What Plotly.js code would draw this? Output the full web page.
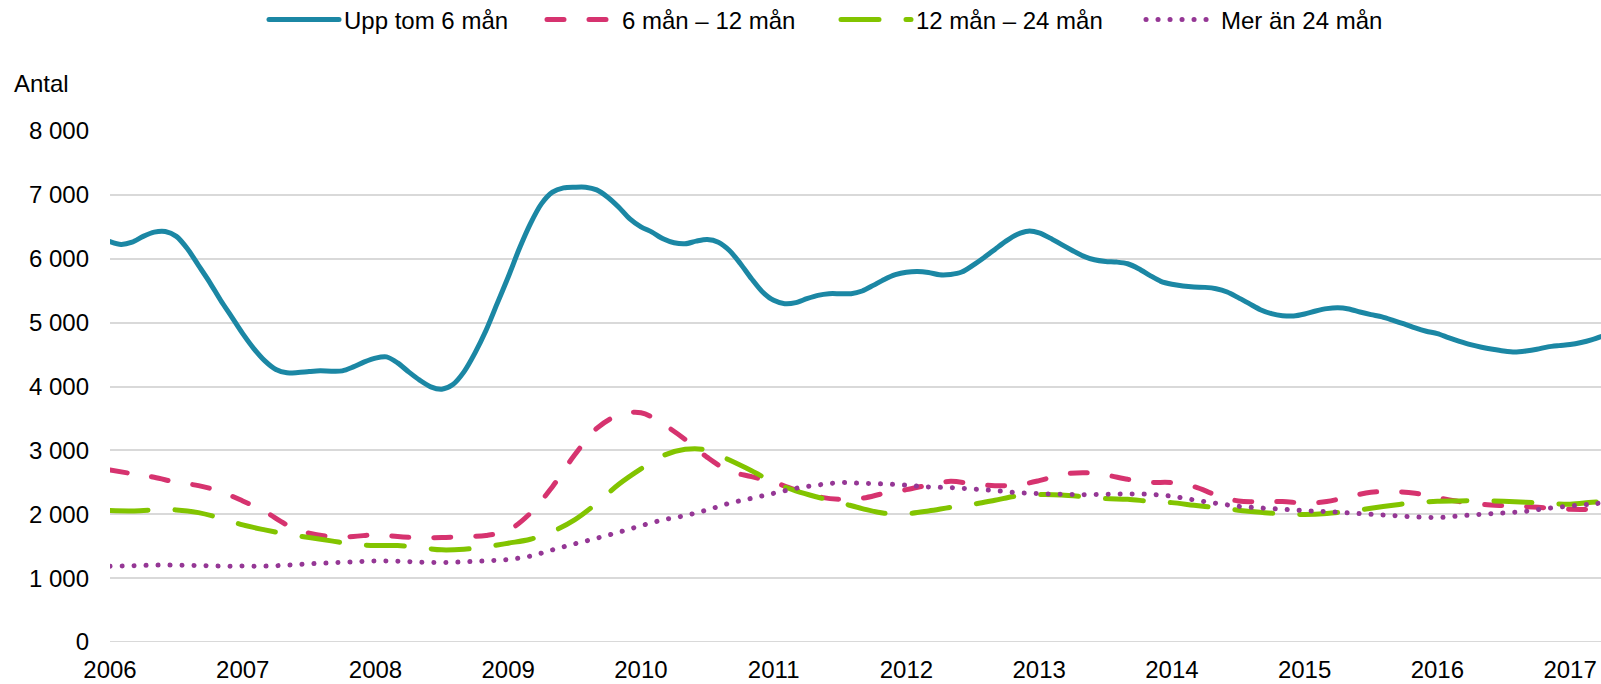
<!DOCTYPE html>
<html>
<head>
<meta charset="utf-8">
<script src="https://cdn.plot.ly/plotly-3.0.1.min.js"></script>
<style>
  html, body { margin: 0; padding: 0; background: #fff; }
  #chart { width: 1601px; height: 684px; }
  .scatterlayer path.js-line, .legend path.js-line { stroke-linecap: round; stroke-linejoin: round; }
</style>
</head>
<body>
<div id="chart"></div>
<script>
// Series names (legend)
const seriesNames = ["Upp tom 6 mån", "6 mån – 12 mån", "12 mån – 24 mån", "Mer än 24 mån"];

// Tick labels
const yearTicks = [2006, 2007, 2008, 2009, 2010, 2011, 2012, 2013, 2014, 2015, 2016, 2017];
const yTicks = [0, 1000, 2000, 3000, 4000, 5000, 6000, 7000, 8000];
const yTickText = ["0", "1 000", "2 000", "3 000", "4 000", "5 000", "6 000", "7 000", "8 000"];

// Upp tom 6 mån: monthly values from January 2006
const uppTom6 = [
  6270, 6224, 6260, 6350, 6417, 6427, 6350, 6156, 5896, 5635, 5350, 5090,
  4828, 4594, 4401, 4266, 4214, 4219, 4234, 4245, 4240, 4245, 4307, 4385,
  4445, 4464, 4370, 4229, 4099, 3995, 3958, 4031, 4229, 4526, 4880, 5297,
  5714, 6156, 6547, 6859, 7042, 7109, 7120, 7120, 7078, 6964, 6807, 6625,
  6500, 6417, 6312, 6250, 6234, 6276, 6302, 6260, 6130, 5922, 5687, 5479,
  5349, 5297, 5313, 5375, 5427, 5453, 5453, 5453, 5495, 5583, 5677, 5750,
  5790, 5802, 5786, 5750, 5755, 5792, 5896, 6016, 6146, 6276, 6380, 6432,
  6406, 6323, 6224, 6130, 6042, 5984, 5958, 5948, 5922, 5844, 5740, 5646,
  5600, 5573, 5557, 5552, 5531, 5479, 5391, 5297, 5203, 5141, 5109, 5104,
  5135, 5182, 5219, 5234, 5214, 5167, 5125, 5089, 5036, 4979, 4917, 4865,
  4828, 4766, 4708, 4656, 4615, 4583, 4557, 4542, 4557, 4583, 4620, 4640,
  4656, 4688, 4734, 4792
];

// The other series: values every second month from January 2006
const man6till12 = [
  2693, 2635, 2578, 2500, 2448, 2354, 2208, 2042, 1833, 1703, 1651, 1651,
  1680, 1651, 1630, 1635, 1651, 1667, 1750, 2016, 2432, 2927, 3344, 3552,
  3590, 3411, 3172, 2891, 2677, 2589, 2500, 2380, 2276, 2234, 2250, 2328,
  2385, 2458, 2516, 2474, 2448, 2458, 2526, 2620, 2651, 2615, 2547, 2500,
  2495, 2432, 2302, 2208, 2198, 2198, 2177, 2198, 2276, 2344, 2354, 2328,
  2260, 2198, 2156, 2135, 2120, 2099, 2078, 2078, 2094
];
const man12till24 = [
  2057, 2052, 2068, 2068, 2026, 1938, 1833, 1755, 1688, 1635, 1583, 1531,
  1510, 1510, 1479, 1443, 1453, 1490, 1547, 1609, 1729, 1911, 2172, 2469,
  2710, 2917, 3016, 3005, 2849, 2682, 2500, 2365, 2266, 2182, 2089, 2016,
  2010, 2052, 2109, 2156, 2219, 2286, 2307, 2302, 2276, 2245, 2234, 2203,
  2182, 2141, 2104, 2063, 2031, 2005, 1995, 2010, 2047, 2094, 2141, 2182,
  2203, 2208, 2213, 2203, 2188, 2172, 2156, 2188, 2215
];
const merAn24 = [
  1185, 1193, 1203, 1203, 1198, 1188, 1188, 1188, 1203, 1224, 1240, 1255,
  1268, 1266, 1250, 1245, 1255, 1271, 1292, 1344, 1443, 1536, 1625, 1719,
  1820, 1911, 1979, 2068, 2172, 2250, 2328, 2406, 2458, 2495, 2484, 2474,
  2455, 2427, 2417, 2396, 2370, 2339, 2323, 2312, 2307, 2312, 2318, 2312,
  2281, 2224, 2172, 2125, 2099, 2078, 2057, 2042, 2021, 2000, 1979, 1958,
  1948, 1974, 2000, 2021, 2047, 2094, 2130, 2161, 2198
];

// month index -> fractional year
function xs(n, stepMonths) {
  const out = [];
  for (let i = 0; i < n; i++) out.push(2006 + (i * stepMonths) / 12);
  return out;
}

const colors = ["#1B87A4", "#D6336F", "#82C400", "#953795"];
const lw = 5;

const traces = [
  { x: xs(uppTom6.length, 1), y: uppTom6, name: seriesNames[0], legendwidth: 193,
    line: { color: colors[0], width: lw, shape: "spline", smoothing: 0.8, dash: "solid" } },
  { x: xs(man6till12.length, 2), y: man6till12, name: seriesNames[1], legendwidth: 209,
    line: { color: colors[1], width: lw, shape: "spline", smoothing: 1, dash: "17px,25px" } },
  { x: xs(man12till24.length, 2), y: man12till24, name: seriesNames[2], legendwidth: 220,
    line: { color: colors[2], width: lw, shape: "spline", smoothing: 1, dash: "38px,27px" } },
  { x: xs(merAn24.length, 2), y: merAn24, name: seriesNames[3], legendwidth: 190,
    line: { color: colors[3], width: lw, shape: "spline", smoothing: 1, dash: "0.1px,11.9px" } }
].map(t => Object.assign({ type: "scatter", mode: "lines", hoverinfo: "skip" }, t));

const font = { family: "Liberation Sans, Arial, sans-serif", size: 24, color: "#000" };

const layout = {
  width: 1601, height: 684,
  margin: { l: 110, r: 0, t: 131, b: 42 },
  paper_bgcolor: "#fff", plot_bgcolor: "#fff",
  font: font,
  showlegend: true,
  legend: {
    orientation: "h", x: 264 / 1601, xref: "container", xanchor: "left",
    y: 0.971, yref: "container", yanchor: "middle",
    font: font, itemwidth: 70, traceorder: "normal", itemclick: false
  },
  xaxis: {
    range: [2006, 2017.233], tickmode: "array", tickvals: yearTicks,
    ticktext: yearTicks.map(String), showgrid: false, zeroline: false,
    showline: false, ticks: "", tickfont: font, ticklabelstandoff: 11, fixedrange: true
  },
  yaxis: {
    range: [0, 8000], tickmode: "array", tickvals: yTicks, ticktext: yTickText,
    showgrid: true, gridcolor: "#D9D9D9", gridwidth: 2, zeroline: false,
    showline: false, ticks: "", tickfont: font, ticklabelstandoff: 20, fixedrange: true
  },
  shapes: [{
    type: "line", xref: "paper", yref: "y", x0: 0, x1: 1, y0: 0, y1: 0,
    line: { color: "#D9D9D9", width: 2 }, layer: "below"
  }],
  annotations: [{
    text: "Antal", xref: "paper", yref: "paper",
    x: (12 - 110) / 1491, y: (642 - 84) / 511,
    xanchor: "left", yanchor: "middle", showarrow: false, font: font
  }]
};

Plotly.newPlot("chart", traces, layout, { displayModeBar: false, staticPlot: true });
</script>
</body>
</html>
